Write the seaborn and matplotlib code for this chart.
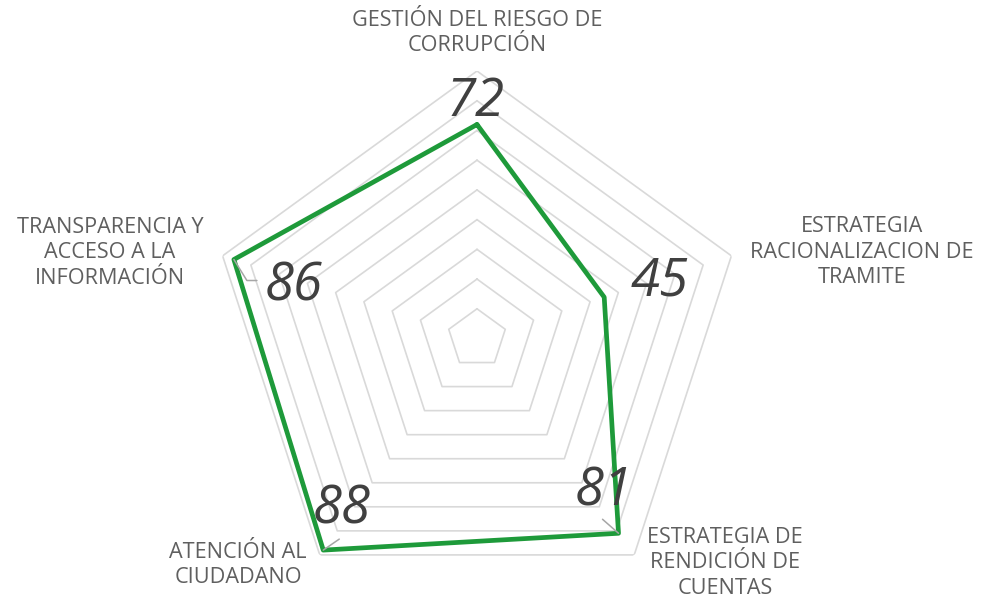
import numpy as np
import matplotlib
matplotlib.use("Agg")
import matplotlib.pyplot as plt
from matplotlib.lines import Line2D
import seaborn as sns
import pandas as pd

categories = ["GESTIÓN DEL RIESGO DE\nCORRUPCIÓN",
              "ESTRATEGIA\nRACIONALIZACION DE\nTRAMITE",
              "ESTRATEGIA DE\nRENDICIÓN DE\nCUENTAS",
              "ATENCIÓN AL\nCIUDADANO",
              "TRANSPARENCIA Y\nACCESO A LA\nINFORMACIÓN"]
values = [72, 45, 81, 88, 86]
grid_levels = [10, 20, 30, 40, 50, 60, 70, 80, 90]

sns.set_theme(style="white")
plt.rcParams['font.family'] = ['Open Sans', 'DejaVu Sans']

W, H = 990, 603
fig = plt.figure(figsize=(W / 100, H / 100), dpi=100)
cx, cy, R = 477, 338.5, 267.5
ax = fig.add_axes([(cx - R) / W, (H - cy - R) / H, 2 * R / W, 2 * R / H], projection='polar')
ax.set_theta_offset(np.pi / 2)
ax.set_theta_direction(-1)
ax.set_ylim(0, 90)
ax.grid(False)
ax.set_xticks([])
ax.set_yticks([])
ax.spines['polar'].set_visible(False)
ax.patch.set_alpha(0)

n = len(categories)
theta = np.arange(n) * 2 * np.pi / n
theta_c = np.append(theta, theta[0])

for g in grid_levels:
    ax.plot(theta_c, [g] * (n + 1), color="#D9D9D9", lw=1.2, zorder=1)

df = pd.DataFrame({"theta": theta_c, "value": values + [values[0]]})
sns.lineplot(data=df, x="theta", y="value", sort=False, ax=ax, color="#1E9A3A",
             lw=3.4, zorder=3, estimator=None)
ax.set_xlabel("")
ax.set_ylabel("")

def fx(px):
    return px / W

def fy(py):
    return 1 - py / H

# value labels
val_pos = [(476, 102), (660, 282), (604, 492), (342, 510), (294, 287)]
for v, (px, py) in zip(values, val_pos):
    fig.text(fx(px), fy(py), str(v), ha="center", va="center", fontsize=38,
             style="italic", color="#404040")

# leader lines (pixel offsets from the data point, y downward)
fig.canvas.draw()
leaders = {2: [(0, 0), (-16, -14)], 3: [(0, 0), (16, -11)], 4: [(0, 0), (13, 21), (23, 21)]}
for idx, offs in leaders.items():
    x0, y0 = ax.transData.transform((theta[idx], values[idx]))
    xs = [x0 + dx for dx, dy in offs]
    ys = [y0 - dy for dx, dy in offs]
    fig.add_artist(Line2D(xs, ys, transform=None, color="#A6A6A6", lw=1.1, zorder=2))

cat_pos = [(477, 33), (862, 252), (725, 563), (238, 565), (110, 253)]
for c, (px, py) in zip(categories, cat_pos):
    fig.text(fx(px), fy(py), c, ha="center", va="center", fontsize=15.6,
             fontweight="normal", color="#5F5F5F", linespacing=1.28)

fig.savefig("out.png", dpi=100)
